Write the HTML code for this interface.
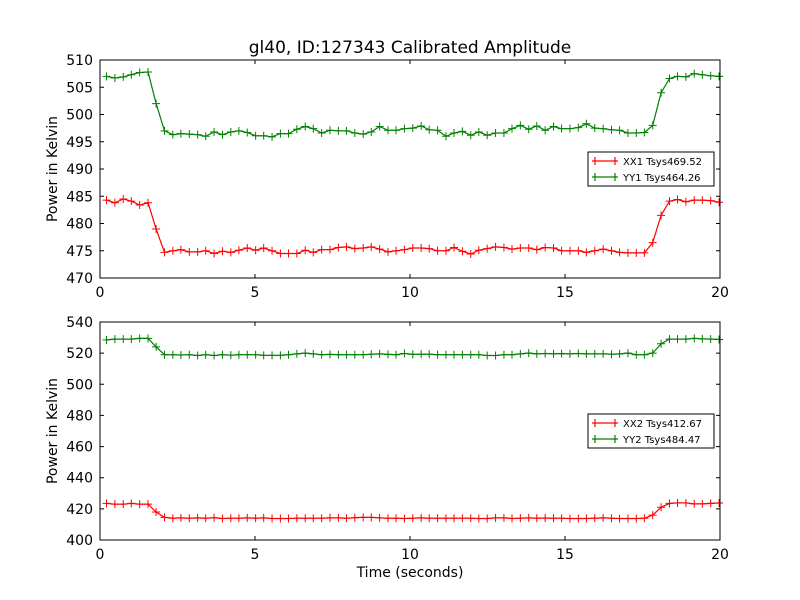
<!DOCTYPE html>
<html><head><meta charset="utf-8"><style>
body{margin:0;background:#fff}
svg{display:block;font-family:"DejaVu Sans","Liberation Sans",sans-serif}
</style></head><body>
<svg id="fig" width="800" height="600"></svg>
<script>
const times=[0.21,0.48,0.75,1.01,1.28,1.55,1.81,2.08,2.35,2.61,2.88,3.15,3.41,3.68,3.95,4.22,4.48,4.75,5.02,5.28,5.55,5.82,6.08,6.35,6.62,6.88,7.15,7.42,7.69,7.95,8.22,8.49,8.75,9.02,9.29,9.55,9.82,10.09,10.36,10.62,10.89,11.16,11.42,11.69,11.96,12.22,12.49,12.76,13.03,13.29,13.56,13.83,14.09,14.36,14.63,14.89,15.16,15.43,15.69,15.96,16.23,16.5,16.76,17.03,17.3,17.56,17.83,18.1,18.37,18.63,18.9,19.17,19.43,19.7,19.97];
const yy1=[507,506.7,506.9,507.3,507.7,507.8,502,497,496.3,496.5,496.4,496.3,496,496.8,496.3,496.8,497,496.7,496.1,496.1,495.9,496.5,496.5,497.3,497.8,497.4,496.6,497.1,497,497,496.6,496.4,496.8,497.8,497.1,497.1,497.4,497.5,497.9,497.2,497.1,496,496.6,496.9,496.2,496.8,496.2,496.6,496.6,497.4,498,497.3,497.9,497.1,497.8,497.4,497.4,497.6,498.3,497.5,497.4,497.2,497.1,496.6,496.6,496.7,498,504,506.6,507,506.9,507.5,507.3,507.1,507.0];
const xx1=[484.3,483.8,484.5,484.1,483.4,483.8,479,474.7,475,475.2,474.8,474.8,475,474.5,474.9,474.7,475.1,475.5,475.1,475.5,475,474.5,474.5,474.5,475.1,474.7,475.2,475.2,475.6,475.7,475.4,475.5,475.7,475.3,474.8,475,475.2,475.5,475.5,475.4,475,475,475.6,474.9,474.4,475.1,475.4,475.7,475.6,475.3,475.5,475.5,475.2,475.6,475.5,475,475,475,474.7,475,475.3,475,474.7,474.6,474.6,474.6,476.5,481.5,484.1,484.4,484,484.3,484.3,484.2,483.9];
const yy2=[528.5,529,529,529,529.5,529.5,524,519,519,518.8,519,518.5,519,518.5,519,518.7,519,519,519,518.6,518.6,518.6,519,519.5,520,519.5,519,519.2,519,519,519,519,519.3,519.5,519.2,519,519.8,519.2,519.3,519.3,519,519,519,519,519,519,518.5,518.5,519,519,519.5,520,519.5,519.8,519.6,519.7,519.5,519.8,519.5,519.5,519.5,519.3,519.5,520,519,519,520,526,529,529,529,529.5,529.2,529,528.8];
const xx2=[423.5,423,423,423.5,423,423,418,414.5,414,414.2,414,414.2,414,414.3,413.8,414,414,414.2,414,414.2,413.8,413.8,413.8,414,414,414,414,414.2,414.2,414,414.3,414.5,414.5,414.2,414,414,413.8,414,414.2,414,414,414,414,414,414,413.8,413.8,414.2,414.2,413.8,414,414.2,414,414.1,414,414,413.8,413.8,413.8,414,414.2,414,413.8,413.8,413.8,414,416,421,423.5,423.8,423.8,423.2,423.2,423.5,423.8];
const xTicks=[0,5,10,15,20];
const topTicks=[470,475,480,485,490,495,500,505,510];
const botTicks=[400,420,440,460,480,500,520,540];
const topLegend=["XX1 Tsys469.52","YY1 Tsys464.26"];
const botLegend=["XX2 Tsys412.67","YY2 Tsys484.47"];

const NS="http://www.w3.org/2000/svg";
const svg=document.getElementById('fig');
function el(tag,attrs,parent,text){const e=document.createElementNS(NS,tag);for(const k in attrs)e.setAttribute(k,attrs[k]);if(text!==undefined)e.textContent=text;(parent||svg).appendChild(e);return e;}

function panel(name,top,bottom,ymin,ymax,yTicks,series,legend,legY){
  const L=100,R=720;
  const g=el('g',{});
  
  
  const sx=v=>L+(v-0)/(20-0)*(R-L);
  const sy=v=>bottom-(v-ymin)/(ymax-ymin)*(bottom-top);
  series.forEach(s=>{
    const pts=times.map((t,i)=>sx(t).toFixed(1)+','+sy(s.vals[i]).toFixed(1)).join(' ');
    const pl=el('polyline',{points:pts,fill:'none',stroke:s.color,'stroke-width':1.2},g);
    
    
    let d='';
    times.forEach((t,i)=>{const x=sx(t),y=sy(s.vals[i]);d+=`M${x-4},${y}h8M${x},${y-4}v8`;});
    const mk=el('path',{d:d,stroke:s.color,'stroke-width':1},g);
    
    
  });
  const fr=el('rect',{x:L,y:top,width:R-L,height:bottom-top,fill:'none',stroke:'#000','stroke-width':1},g);
  
  
  xTicks.forEach(v=>{
    const x=sx(v);
    el('path',{d:`M${x},${bottom}v-4M${x},${top}v4`,stroke:'#000'},g);
    const t=el('text',{x:x,y:bottom+19,'text-anchor':'middle','font-size':14},g,String(v));
    
    
  });
  yTicks.forEach(v=>{
    const y=sy(v);
    el('path',{d:`M${L},${y}h4M${R},${y}h-4`,stroke:'#000'},g);
    const t=el('text',{x:L-7,y:y+5,'text-anchor':'end','font-size':14},g,String(v));
    
    
  });
  const yl=el('text',{x:0,y:0,transform:`translate(57,${(top+bottom)/2}) rotate(-90)`,'text-anchor':'middle','font-size':14},g,'Power in Kelvin');
  
  
  const lg=el('g',{},g);
  
  
  el('rect',{x:588,y:legY,width:126,height:34,fill:'#fff',stroke:'#000'},lg);
  legend.forEach((lab,i)=>{
    const y=legY+9+i*16,c=series[i].color;
    const e=el('g',{},lg);
    
    
    el('path',{d:`M592,${y}h26M595,${y-4}v8M615,${y-4}v8`,stroke:c,'stroke-width':1.2},e);
    el('text',{x:623,y:y+4,'font-size':10},e,lab);
  });
}
const tt=el('text',{x:410,y:53,'text-anchor':'middle','font-size':17},svg,'gl40, ID:127343 Calibrated Amplitude');


panel('top-panel',60,278,470,510,topTicks,[{name:'xx1',vals:xx1,color:'#ff0000'},{name:'yy1',vals:yy1,color:'#008000'}],topLegend,152);
panel('bottom-panel',322,540,400,540,botTicks,[{name:'xx2',vals:xx2,color:'#ff0000'},{name:'yy2',vals:yy2,color:'#008000'}],botLegend,414);
const xl=el('text',{x:410,y:577,'text-anchor':'middle','font-size':14},svg,'Time (seconds)');


</script>
</body></html>
